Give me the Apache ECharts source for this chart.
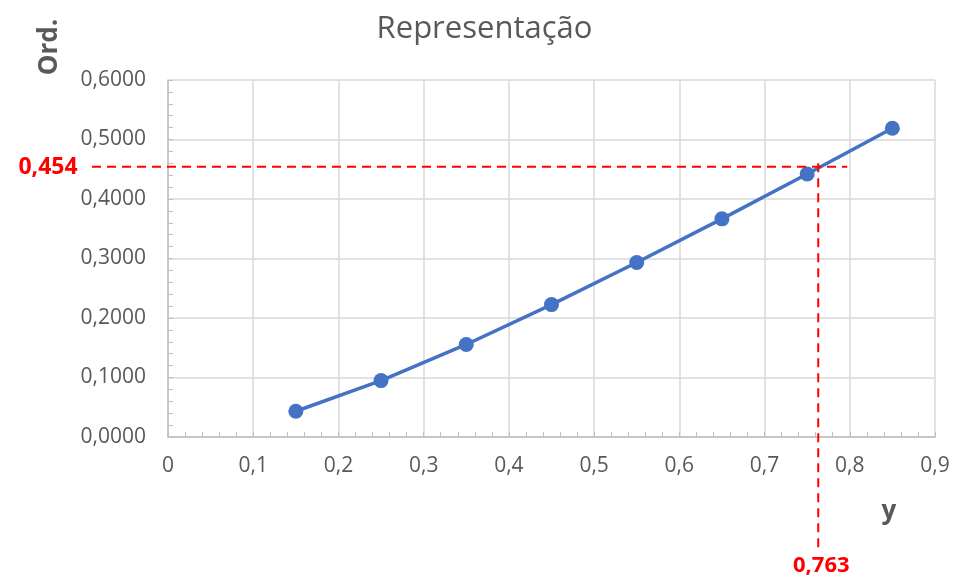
<!DOCTYPE html>
<html>
<head>
<meta charset="utf-8">
<script src="https://cdn.jsdelivr.net/npm/echarts@6/dist/echarts.min.js"></script>
<style>
  html, body { margin: 0; padding: 0; background: #fff; }
  #chart { width: 969px; height: 581px; }
</style>
</head>
<body>
<div id="chart"></div>
<script>
var xValues = [0.15, 0.25, 0.35, 0.45, 0.55, 0.65, 0.75, 0.85];
var ordValues = [0.0433, 0.0948, 0.1555, 0.2225, 0.2933, 0.3666, 0.442, 0.5188];
var readX = 0.763;
var readY = 0.454;
var readLineEndX = 0.797;

var FONT = '"Open Sans", "Noto Sans", sans-serif';
var GREY = '#595959';

function comma(v, digits) {
    return v.toFixed(digits).replace('.', ',');
}

var points = xValues.map(function(x, i) { return [x, ordValues[i]]; });

var myChart = echarts.init(document.getElementById('chart'));

var option = {
    animation: false,
    backgroundColor: '#fff',
    title: {
        text: 'Representação',
        left: 'center',
        top: 9,
        textStyle: { fontFamily: FONT, fontSize: 31, fontWeight: 'normal', color: GREY }
    },
    grid: { left: 168, right: 34, top: 80, bottom: 144 },
    xAxis: {
        type: 'value',
        min: 0,
        max: 0.9,
        interval: 0.1,
        axisLine: { lineStyle: { color: '#bfbfbf', width: 1.5 } },
        axisTick: { show: true, inside: true, length: 5, lineStyle: { color: '#bfbfbf' } },
        minorTick: { show: true, splitNumber: 5, length: 5, lineStyle: { color: '#bfbfbf' } },
        splitLine: { show: true, lineStyle: { color: '#d9d9d9', width: 1.5 } },
        axisLabel: {
            margin: 19,
            fontFamily: FONT, fontSize: 21, color: GREY,
            formatter: function(v) { return v === 0 ? '0' : comma(v, 1); }
        }
    },
    yAxis: {
        type: 'value',
        min: 0,
        max: 0.6,
        interval: 0.1,
        axisLine: { show: true, lineStyle: { color: '#bfbfbf', width: 1.5 } },
        axisTick: { show: true, inside: true, length: 5, lineStyle: { color: '#bfbfbf' } },
        minorTick: { show: true, splitNumber: 5, length: 5, lineStyle: { color: '#bfbfbf' } },
        splitLine: { show: true, lineStyle: { color: '#d9d9d9', width: 1.5 } },
        axisLabel: {
            margin: 22,
            fontFamily: FONT, fontSize: 21, color: GREY,
            formatter: function(v) { return comma(v, 4); }
        }
    },
    series: [
        {
            type: 'line',
            data: points,
            symbol: 'circle',
            symbolSize: 15,
            itemStyle: { color: '#4472C4' },
            lineStyle: { color: '#4472C4', width: 3.5 }
        }
    ]
};

myChart.setOption(option);

// red reading lines, placed through the chart's own scales
var pY = myChart.convertToPixel({ gridIndex: 0 }, [readLineEndX, readY]);
var pX = myChart.convertToPixel({ gridIndex: 0 }, [readX, 0.46]);
var dash = { stroke: '#ff0000', lineWidth: 2, lineDash: [9, 6] };

myChart.setOption({
    graphic: [
        {
            type: 'text', z: 100,
            x: 50, y: 47, rotation: Math.PI / 2,
            style: {
                text: 'Ord.', fill: GREY, font: 'bold 26px ' + FONT,
                textAlign: 'center', textVerticalAlign: 'middle'
            }
        },
        {
            type: 'text', z: 100,
            x: 889, y: 512,
            style: {
                text: 'y', fill: GREY, font: 'bold 26px ' + FONT,
                textAlign: 'center', textVerticalAlign: 'middle'
            }
        },
        {
            type: 'line', z: 100,
            shape: { x1: 92, y1: pY[1], x2: pY[0], y2: pY[1] },
            style: dash
        },
        {
            type: 'line', z: 100,
            shape: { x1: pX[0], y1: pX[1], x2: pX[0], y2: 553 },
            style: dash
        },
        {
            type: 'text', z: 100,
            x: 48, y: pY[1] + 1,
            style: {
                text: comma(readY, 3), fill: '#ff0000', font: 'bold 23px ' + FONT,
                textAlign: 'center', textVerticalAlign: 'middle'
            }
        },
        {
            type: 'text', z: 100,
            x: pX[0] + 3, y: 566,
            style: {
                text: comma(readX, 3), fill: '#ff0000', font: 'bold 22px ' + FONT,
                textAlign: 'center', textVerticalAlign: 'middle'
            }
        }
    ]
});
</script>
</body>
</html>
